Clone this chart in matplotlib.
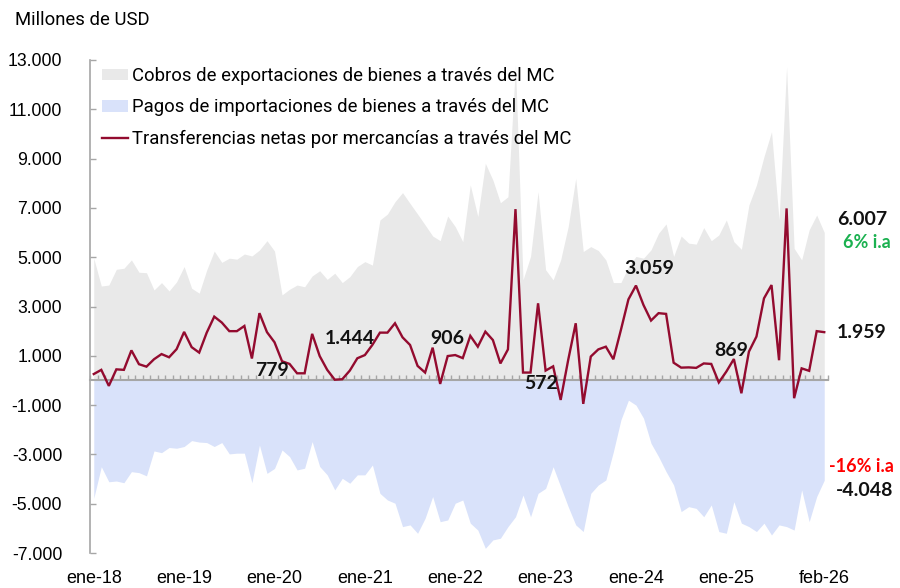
import numpy as np
import pandas as pd
import matplotlib
matplotlib.use("Agg")
import matplotlib.pyplot as plt
from matplotlib.patches import Patch
from matplotlib.lines import Line2D

# ---------------- data (millones de USD) ----------------
months = pd.date_range("2018-01-01", periods=98, freq="MS")

exports = [4960, 3830, 3870, 4510, 4550, 4890, 4390, 4370, 3670, 3970, 3630, 4000,
           4620, 3740, 3540, 4480, 5250, 4790, 4960, 4920, 5130, 5050, 5290, 5670,
           5250, 3470, 3700, 3870, 3800, 4240, 4450, 4100, 4350, 3970, 4210, 4620,
           4820, 4680, 6510, 6750, 7250, 7620, 7180, 6750, 6310, 5860, 5670, 6670,
           6240, 5630, 7930, 6650, 8810, 8130, 7210, 7450, 12800, 4080, 5030, 7660,
           4490, 4080, 4890, 6240, 8200, 5230, 5430, 5270, 4890, 3970, 3970, 4620,
           5030, 4960, 5300, 5970, 6350, 5030, 5860, 5570, 5530, 6200, 5670, 5900,
           6510, 5630, 5320, 7120, 7930, 9080, 10090, 6510, 12730, 5360, 4890, 6110,
           6710, 6007]

imports = [-4780, -3500, -4110, -4080, -4150, -3700, -3740, -3870, -2860, -2930, -2720, -2750,
           -2680, -2440, -2500, -2520, -2680, -2520, -2980, -2950, -2950, -4150, -2620, -3770,
           -3570, -2820, -3090, -3630, -3560, -2480, -3490, -3830, -4440, -3970, -4170, -3830,
           -3830, -3430, -4580, -4850, -4980, -5930, -5860, -6200, -5590, -4710, -5730, -5660,
           -4980, -4850, -5790, -6070, -6810, -6470, -6400, -5930, -5530, -4650, -5530, -4580,
           -4380, -3500, -4310, -5120, -5860, -6130, -4580, -4240, -4040, -2890, -1600, -800,
           -1000, -1530, -2550, -3090, -3700, -4240, -5320, -5120, -5190, -5530, -5050, -6130,
           -6200, -4920, -5790, -5930, -6130, -5790, -6270, -5860, -5930, -6070, -4440, -5730,
           -4710, -4048]

net = [260, 430, -220, 450, 430, 1220, 660, 560, 860, 1070, 940, 1270,
       1970, 1350, 1130, 1940, 2590, 2350, 2000, 2000, 2210, 890, 2730, 1960,
       1550, 779, 670, 290, 290, 1890, 990, 430, 30, 50, 400, 900,
       1030, 1444, 1940, 1940, 2320, 1750, 1440, 590, 320, 1330, -140, 990,
       1030, 906, 1810, 1370, 1980, 1640, 690, 1260, 6950, 320, 320, 3130,
       400, 572, -790, 830, 2320, -950, 970, 1260, 1370, 860, 2050, 3290,
       3850, 3059, 2430, 2730, 2700, 720, 520, 530, 510, 690, 670, -80,
       360, 869, -520, 1170, 1780, 3330, 3870, 820, 6980, -720, 490, 390,
       2000, 1959]

xtick_labels = ["ene-18", "ene-19", "ene-20", "ene-21", "ene-22",
                "ene-23", "ene-24", "ene-25", "feb-26"]
yticks = list(range(-7000, 13001, 2000))

legend_labels = ["Cobros de exportaciones de bienes a través del MC",
                 "Pagos de importaciones de bienes a través del MC",
                 "Transferencias netas por mercancías a través del MC"]

exp_var = "6% i.a"
imp_var = "-16% i.a"

# ---------------- style ----------------
C_EXP = "#E9E9E9"
C_IMP = "#D9E2FA"
C_NET = "#930B2F"
C_AX = "#A6A6A6"

def fmt(v):
    return f"{int(round(v)):,}".replace(",", ".")

fig = plt.figure(figsize=(9, 5.88), dpi=100)
ax = fig.add_axes([90 / 900, (588 - 553) / 588, 738 / 900, 493 / 588])

x = np.arange(len(months))
ax.fill_between(x, 0, exports, color=C_EXP, lw=0, zorder=1)
ax.fill_between(x, imports, 0, color=C_IMP, lw=0, zorder=1)
ax.plot(x, net, color=C_NET, lw=1.7, zorder=4, solid_joinstyle="miter")

ax.set_xlim(-0.5, len(months) - 0.5)
ax.set_ylim(-7000, 13000)

# y axis
ax.set_yticks(yticks)
ax.set_yticklabels([fmt(v) for v in yticks], fontfamily="Liberation Sans", fontsize=12.7)
ax.tick_params(axis="y", direction="in", length=4, width=1, color=C_AX, pad=20)

for s in ["top", "right"]:
    ax.spines[s].set_visible(False)
ax.spines["left"].set_color(C_AX)
ax.spines["left"].set_linewidth(1.2)
ax.spines["bottom"].set_position(("data", 0))
ax.spines["bottom"].set_color(C_AX)
ax.spines["bottom"].set_linewidth(1.5)
ax.spines["bottom"].set_zorder(3)

ax.set_xticks([])
ax.set_xticks(np.arange(-0.5, len(months), 1), minor=True)
ax.tick_params(axis="x", which="minor", direction="in", length=3.5, width=1, color=C_AX)

# month labels at bottom
label_pos = []
for lab in xtick_labels:
    mon, yy = lab.split("-")
    mnum = {"ene": 1, "feb": 2}[mon]
    d = pd.Timestamp(year=2000 + int(yy), month=mnum, day=1)
    label_pos.append(int(np.where(months == d)[0][0]))
sec = ax.secondary_xaxis("bottom")
sec.set_xticks(label_pos)
sec.set_xticklabels(xtick_labels, fontfamily="Liberation Sans", fontsize=13)
sec.tick_params(length=0, pad=12)
sec.spines["bottom"].set_visible(False)

# legend
handles = [Patch(facecolor=C_EXP, edgecolor="none"),
           Patch(facecolor=C_IMP, edgecolor="none"),
           Line2D([0], [0], color=C_NET, lw=1.7)]
leg = fig.legend(handles, legend_labels, loc="upper left",
                 bbox_to_anchor=(102 / 900, 1 - 67 / 588), frameon=False,
                 prop={"family": "Roboto", "size": 13.3},
                 handlelength=1.4, handleheight=0.55, handletextpad=0.2,
                 labelspacing=0.73, borderaxespad=0, borderpad=0)

fig.text(15 / 900, 1 - 20 / 588, "Millones de USD", fontfamily="Roboto",
         fontsize=13.3, va="center", ha="left")

# data labels (February of each year)
bold = dict(fontfamily="Lato", fontweight="bold", fontsize=14, color="#111111",
            ha="center", va="center", zorder=6)
offsets = {"2020-02": (-7, -6.5), "2021-02": (-16, 4.3), "2022-02": (-11.5, 13.8),
           "2023-02": (-9, -12), "2024-02": (4, 26), "2025-02": (-2, 6.5)}
for key, off in offsets.items():
    i = int(np.where(months == pd.Timestamp(key + "-01"))[0][0])
    ax.annotate(fmt(net[i]), xy=(i, net[i]), xytext=off, textcoords="offset points", **bold)

last = len(months) - 1
ax.annotate(fmt(net[last]), xy=(last, net[last]), xytext=(27, 0),
            textcoords="offset points", annotation_clip=False, **bold)
ax.annotate(fmt(exports[last]), xy=(last, exports[last]), xytext=(27, 9.6),
            textcoords="offset points", annotation_clip=False, **bold)
ax.annotate(exp_var, xy=(last, exports[last]), xytext=(30.5, -7.6),
            textcoords="offset points", annotation_clip=False,
            **{**bold, "color": "#1BB150", "fontsize": 13})
ax.annotate(fmt(imports[last]), xy=(last, imports[last]), xytext=(29, -7.7),
            textcoords="offset points", annotation_clip=False, **bold)
ax.annotate(imp_var, xy=(last, imports[last]), xytext=(27, 9.6),
            textcoords="offset points", annotation_clip=False,
            **{**bold, "color": "#FF0000", "fontsize": 13})

fig.savefig("out.png", dpi=100)
